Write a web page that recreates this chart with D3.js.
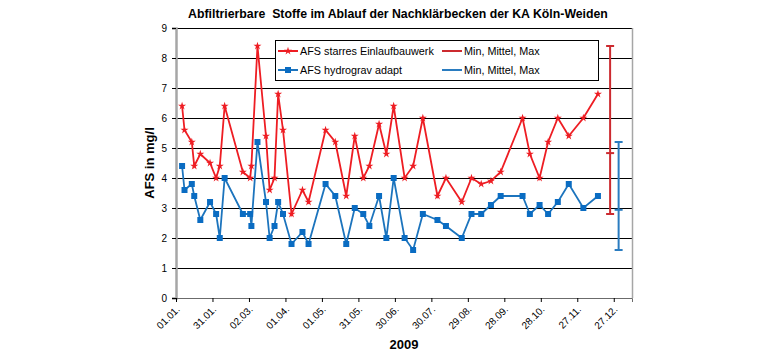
<!DOCTYPE html>
<html>
<head>
<meta charset="utf-8">
<script src="https://cdn.jsdelivr.net/npm/d3@7"></script>
<style>
  body { margin: 0; background: #ffffff; }
  text { font-family: Arial, 'Liberation Sans', sans-serif; }
</style>
</head>
<body>
<script>
/* DATA */
var chartTitle = 'Abfiltrierbare  Stoffe im Ablauf der Nachklärbecken der KA Köln-Weiden';
var yTitle = 'AFS in mg/l';
var xTitle = '2009';

var sampleDates = [
  '2009-01-06', '2009-01-08', '2009-01-14', '2009-01-16', '2009-01-21', '2009-01-29',
  '2009-02-03', '2009-02-06', '2009-02-10', '2009-02-25', '2009-03-03', '2009-03-04',
  '2009-03-09', '2009-03-16', '2009-03-19', '2009-03-23', '2009-03-26', '2009-03-30',
  '2009-04-06', '2009-04-15', '2009-04-20', '2009-05-04', '2009-05-12', '2009-05-21',
  '2009-05-28', '2009-06-04', '2009-06-09', '2009-06-17', '2009-06-23', '2009-06-29',
  '2009-07-08', '2009-07-15', '2009-07-23', '2009-08-04', '2009-08-11', '2009-08-24',
  '2009-09-01', '2009-09-09', '2009-09-17', '2009-09-25', '2009-10-13', '2009-10-19',
  '2009-10-27', '2009-11-03', '2009-11-11', '2009-11-20', '2009-12-02', '2009-12-14'
];
var starresValues = [
  6.4, 5.6, 5.2, 4.4, 4.8, 4.5, 4.0, 4.4, 6.4, 4.2, 4.0, 4.4,
  8.4, 5.4, 3.6, 4.0, 6.8, 5.6, 2.8, 3.6, 3.2, 5.6, 5.2, 3.4,
  5.4, 4.0, 4.4, 5.8, 4.8, 6.4, 4.0, 4.4, 6.0, 3.4, 4.0, 3.2,
  4.0, 3.8, 3.9, 4.2, 6.0, 4.8, 4.0, 5.2, 6.0, 5.4, 6.0, 6.8
];
var hydrogravValues = [
  4.4, 3.6, 3.8, 3.4, 2.6, 3.2, 2.8, 2.0, 4.0, 2.8, 2.8, 2.4,
  5.2, 3.2, 2.0, 2.4, 3.2, 2.8, 1.8, 2.2, 1.8, 3.8, 3.4, 1.8,
  3.0, 2.8, 2.4, 3.4, 2.0, 4.0, 2.0, 1.6, 2.8, 2.6, 2.4, 2.0,
  2.8, 2.8, 3.1, 3.4, 3.4, 2.8, 3.1, 2.8, 3.2, 3.8, 3.0, 3.4
];

// min / mean / max summary bars
var summaryNames = ['starres', 'hydrograv'];
var summaryDates = ['2009-12-24', '2009-12-31'];
var summaryMin = [2.8, 1.6];
var summaryMean = [4.83, 2.94];
var summaryMax = [8.4, 5.2];

var legendLabels = ['AFS starres Einlaufbauwerk', 'AFS hydrograv adapt', 'Min, Mittel, Max', 'Min, Mittel, Max'];

var xTickLabels = ['01.01.', '31.01.', '02.03.', '01.04.', '01.05.', '31.05.', '30.06.', '30.07.', '29.08.', '28.09.', '28.10.', '27.11.', '27.12.'];
var yTicks = [0, 1, 2, 3, 4, 5, 6, 7, 8, 9];

/* STYLE */
var width = 780, height = 353;
var redLine = '#ee1d23';
var redBar = '#cc2a2f';
var blueLine = '#1c74bd';
var blueMarker = '#0a6cc2';
var blueBar = '#2a7cc0';
var gridColor = '#000000';
var frameColor = '#a6a6a6';

var plot = {left: 176, right: 632, top: 28, bottom: 298};

var parse = d3.timeParse('%Y-%m-%d');
var startDate = parse('2009-01-01');
var endDate = d3.timeDay.offset(startDate, 375);

var x = d3.scaleTime().domain([startDate, endDate]).range([plot.left, plot.right]);
var y = d3.scaleLinear().domain([0, 9]).range([plot.bottom, plot.top]);

var svg = d3.select('body').append('svg')
    .attr('width', width)
    .attr('height', height);

svg.append('rect').attr('width', width).attr('height', height).attr('fill', '#ffffff');

// title
svg.append('text')
    .attr('x', 398)
    .attr('y', 18)
    .attr('text-anchor', 'middle')
    .style('font-size', '12.3px')
    .style('font-weight', 'bold')
    .style('white-space', 'pre')
    .text(chartTitle);

// gridlines
svg.append('g')
    .selectAll('line')
    .data(yTicks.filter(d => d > 0))
    .join('line')
    .attr('x1', plot.left)
    .attr('x2', plot.right)
    .attr('y1', d => Math.round(y(d)) + 0.5)
    .attr('y2', d => Math.round(y(d)) + 0.5)
    .attr('stroke', gridColor)
    .attr('stroke-width', 1);

// right frame line
svg.append('line')
    .attr('x1', plot.right + 0.5).attr('x2', plot.right + 0.5)
    .attr('y1', plot.top).attr('y2', plot.bottom)
    .attr('stroke', frameColor).attr('stroke-width', 1.5);

// y axis
var yAxis = d3.axisLeft(y).tickValues(yTicks).tickSize(4).tickPadding(5).tickFormat(d3.format('d'));
var yg = svg.append('g')
    .attr('transform', `translate(${plot.left},0)`)
    .call(yAxis);
yg.select('.domain').attr('stroke', frameColor).attr('stroke-width', 2.5);
yg.selectAll('.tick line').attr('stroke', '#000');
yg.selectAll('.tick text').style('font-size', '10px').attr('fill', '#000');

// x axis
var xTickDates = xTickLabels.map((d, i) => d3.timeDay.offset(startDate, i * 30));
var xAxis = d3.axisBottom(x).tickValues(xTickDates).tickSize(4)
    .tickFormat((d, i) => xTickLabels[i]);
var xg = svg.append('g')
    .attr('transform', `translate(0,${plot.bottom})`)
    .call(xAxis);
xg.select('.domain').attr('stroke', '#6b6b6b').attr('stroke-width', 1);
xg.selectAll('.tick line').attr('stroke', '#000');
xg.selectAll('.tick text')
    .style('font-size', '10px')
    .attr('fill', '#000')
    .attr('text-anchor', 'end')
    .attr('dy', null)
    .attr('y', 0)
    .attr('transform', 'translate(4,12) rotate(-45)');

// axis titles
svg.append('text')
    .attr('transform', 'translate(154,163) rotate(-90)')
    .attr('text-anchor', 'middle')
    .style('font-size', '13px')
    .style('font-weight', 'bold')
    .text(yTitle);

svg.append('text')
    .attr('x', 404)
    .attr('y', 349)
    .attr('text-anchor', 'middle')
    .style('font-size', '13px')
    .style('font-weight', 'bold')
    .text(xTitle);

// series
var starres = sampleDates.map((d, i) => ({date: parse(d), value: starresValues[i]}));
var hydrograv = sampleDates.map((d, i) => ({date: parse(d), value: hydrogravValues[i]}));

var line = d3.line().x(d => x(d.date)).y(d => y(d.value));

svg.append('path')
    .datum(starres)
    .attr('fill', 'none')
    .attr('stroke', redLine)
    .attr('stroke-width', 1.8)
    .attr('d', line);

svg.append('path')
    .datum(hydrograv)
    .attr('fill', 'none')
    .attr('stroke', blueLine)
    .attr('stroke-width', 1.8)
    .attr('d', line);

var starSymbol = d3.symbol().type(d3.symbolStar).size(20);
var squareSymbol = d3.symbol().type(d3.symbolSquare).size(36);

svg.append('g')
    .selectAll('path')
    .data(starres)
    .join('path')
    .attr('transform', d => `translate(${x(d.date)},${y(d.value)})`)
    .attr('d', starSymbol)
    .attr('fill', redLine);

svg.append('g')
    .selectAll('path')
    .data(hydrograv)
    .join('path')
    .attr('transform', d => `translate(${x(d.date)},${y(d.value)})`)
    .attr('d', squareSymbol)
    .attr('fill', blueMarker);

// min / mean / max bars
var summary = summaryNames.map((n, i) => ({
  name: n, date: parse(summaryDates[i]),
  min: summaryMin[i], mean: summaryMean[i], max: summaryMax[i],
  color: i === 0 ? redBar : blueBar
}));

var bars = svg.append('g').selectAll('g').data(summary).join('g');
bars.append('line')
    .attr('x1', d => x(d.date)).attr('x2', d => x(d.date))
    .attr('y1', d => y(d.min)).attr('y2', d => y(d.max))
    .attr('stroke', d => d.color).attr('stroke-width', 2);
['min', 'mean', 'max'].forEach(k => {
  bars.append('line')
      .attr('x1', d => x(d.date) - 4).attr('x2', d => x(d.date) + 4)
      .attr('y1', d => y(d[k])).attr('y2', d => y(d[k]))
      .attr('stroke', d => d.color).attr('stroke-width', 2);
});

// legend
var legend = svg.append('g');
legend.append('rect')
    .attr('x', 275.5).attr('y', 40.5)
    .attr('width', 323).attr('height', 40)
    .attr('fill', '#ffffff')
    .attr('stroke', '#000')
    .attr('stroke-width', 1);

var legendItems = [
  {label: legendLabels[0], x: 278, y: 51, color: redLine, marker: starSymbol},
  {label: legendLabels[1], x: 278, y: 70, color: blueLine, marker: squareSymbol, markerColor: blueMarker},
  {label: legendLabels[2], x: 442, y: 51, color: redBar},
  {label: legendLabels[3], x: 442, y: 70, color: blueBar}
];
legendItems.forEach(it => {
  legend.append('line')
      .attr('x1', it.x).attr('x2', it.x + 20)
      .attr('y1', it.y).attr('y2', it.y)
      .attr('stroke', it.color).attr('stroke-width', 2);
  if (it.marker) {
    legend.append('path')
        .attr('transform', `translate(${it.x + 10},${it.y})`)
        .attr('d', it.marker)
        .attr('fill', it.markerColor || it.color);
  }
  legend.append('text')
      .attr('x', it.x + 22)
      .attr('y', it.y + 4)
      .style('font-size', '10.8px')
      .text(it.label);
});
</script>
</body>
</html>
